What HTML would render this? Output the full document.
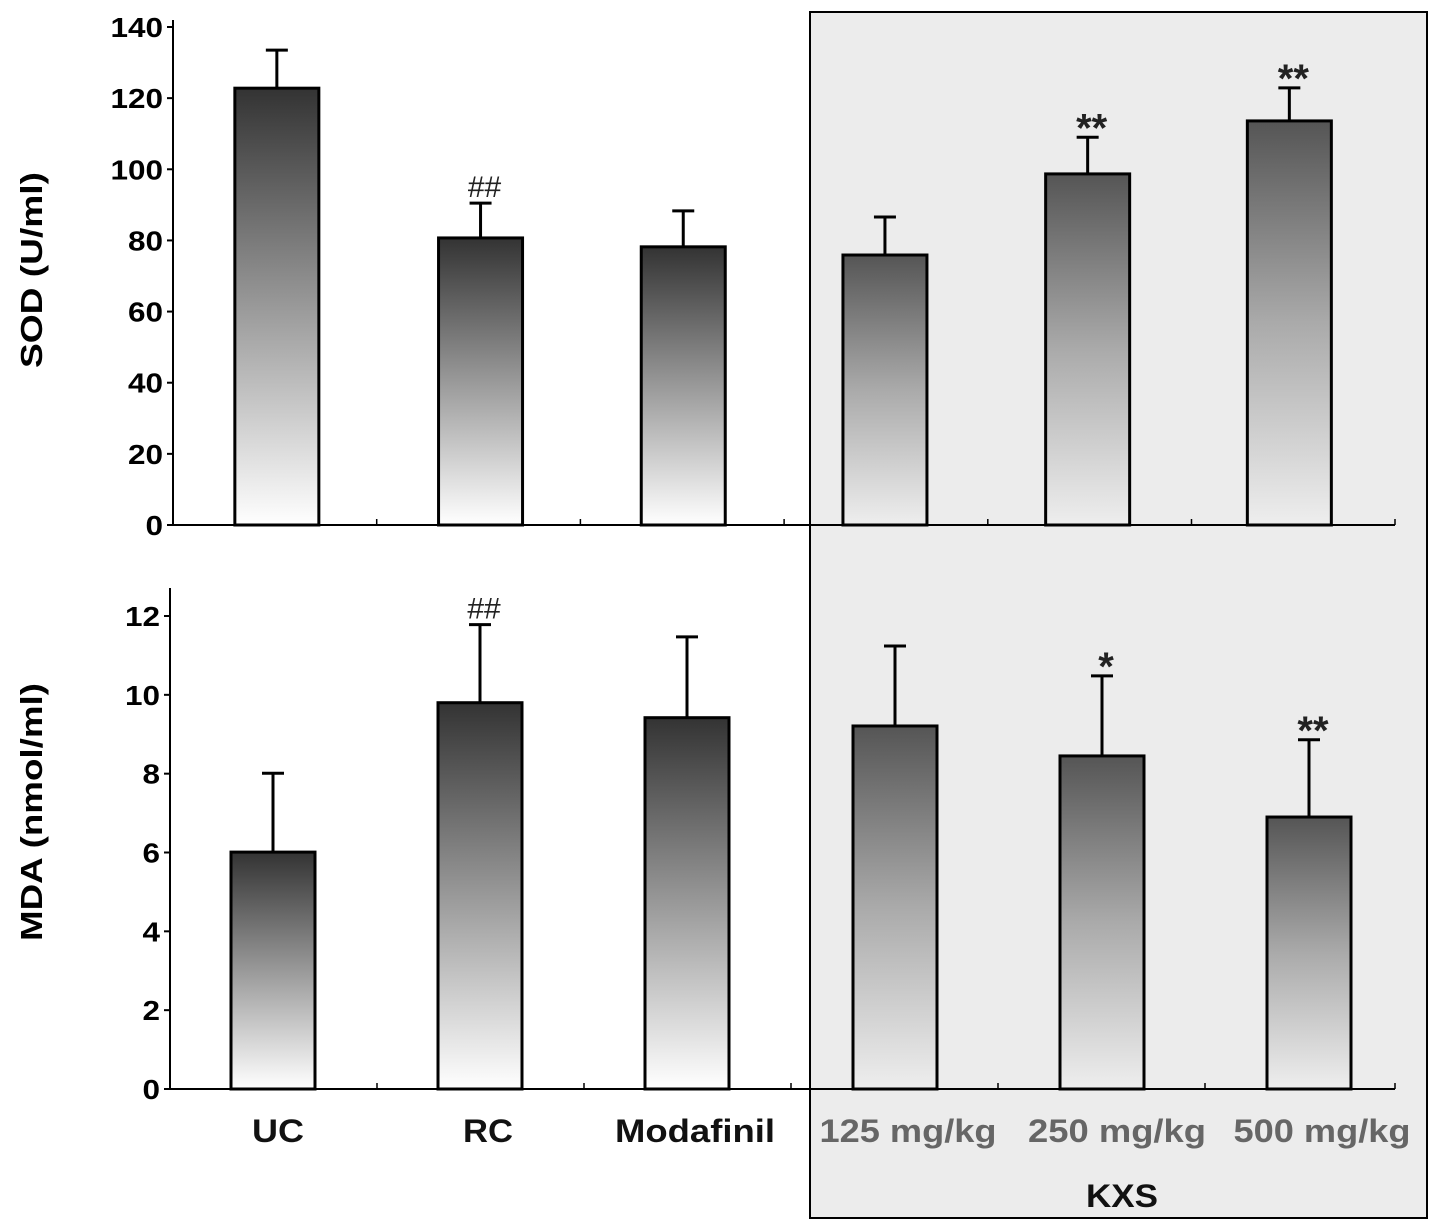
<!DOCTYPE html>
<html><head><meta charset="utf-8"><style>
body{margin:0;background:#fff}
svg{display:block;font-family:"Liberation Sans",sans-serif;font-weight:bold}
</style></head><body>
<svg id="chart" width="1441" height="1231" viewBox="0 0 1441 1231" xmlns="http://www.w3.org/2000/svg">
<defs>
<linearGradient id="gDark" x1="0" y1="0" x2="0" y2="1"><stop offset="0" stop-color="#333"/><stop offset="0.5" stop-color="#999"/><stop offset="1" stop-color="#fff"/></linearGradient>
<linearGradient id="gLight" x1="0" y1="0" x2="0" y2="1"><stop offset="0" stop-color="#555"/><stop offset="0.5" stop-color="#aaa"/><stop offset="1" stop-color="#eee"/></linearGradient>
</defs>
<rect x="810" y="12" width="617" height="1206" fill="#ececec" stroke="#000" stroke-width="2"/>
<g id="plot"></g>
</svg>
<script>
const categories=["UC","RC","Modafinil","125 mg/kg","250 mg/kg","500 mg/kg"];
const sodValues=[122.8,80.7,78.2,75.9,98.7,113.6];
const sodErrors=[10.7,9.8,10.1,10.7,10.3,9.3];
const sodMarks=["","##","","","**","**"];
const sodTicks=[0,20,40,60,80,100,120,140];
const mdaValues=[6.01,9.8,9.42,9.21,8.45,6.9];
const mdaErrors=[2.0,1.98,2.05,2.03,2.03,1.96];
const mdaMarks=["","##","","","*","**"];
const mdaTicks=[0,2,4,6,8,10,12];

const NS="http://www.w3.org/2000/svg";
const g=document.getElementById('plot');
function mk(tag,attrs,parent){const e=document.createElementNS(NS,tag);for(const k in attrs)e.setAttribute(k,attrs[k]);(parent||g).appendChild(e);return e;}

function panel(p){
  const y=v=>p.y0-v*(p.y0-p.yTop)/p.vTop;
  const x=i=>p.xStart+p.step*(i+0.5);
  const pg=mk('g',{});
  
  
  let a=mk('line',{x1:p.ax,y1:p.axTop,x2:p.ax,y2:p.y0,stroke:'#000','stroke-width':2},pg);
  
  
  a=mk('line',{x1:p.ax,y1:p.y0,x2:p.xEnd,y2:p.y0,stroke:'#000','stroke-width':2},pg);
  
  
  for(let i=1;i<categories.length;i++){
    mk('line',{x1:p.xStart+p.step*i,y1:p.y0,x2:p.xStart+p.step*i,y2:p.y0-6,stroke:'#000','stroke-width':1.5},pg);
  }
  mk('line',{x1:p.xEnd,y1:p.y0,x2:p.xEnd,y2:p.y0-6,stroke:'#000','stroke-width':1.5},pg);
  p.ticks.forEach(t=>{
    mk('line',{x1:p.ax-6,y1:y(t),x2:p.ax,y2:y(t),stroke:'#000','stroke-width':2},pg);
    const s=String(t);
    const tx=mk('text',{x:p.ax-10,y:y(t)+10,'text-anchor':'end','font-size':28,fill:'#000',textLength:s.length*17.5,lengthAdjust:'spacingAndGlyphs'},pg);
    tx.textContent=s;
    
    
  });
  const lab=mk('text',{x:0,y:0,'text-anchor':'middle','font-size':31,textLength:p.titleLen,lengthAdjust:'spacingAndGlyphs',transform:`translate(${p.labX},${p.labY}) rotate(-90)`},pg);
  lab.textContent=p.title;
  
  
  p.values.forEach((v,i)=>{
    const cx=x(i)+p.off[i], w=84;
    const b=mk('rect',{x:cx-w/2,y:y(v),width:w,height:p.y0-y(v),fill:i<3?'url(#gDark)':'url(#gLight)',stroke:'#000','stroke-width':3},pg);
    
    
    const ey=y(v+p.errs[i]);
    const e=mk('path',{d:`M${cx},${y(v)} V${ey} M${cx-11},${ey} H${cx+11}`,stroke:'#000','stroke-width':3,fill:'none'},pg);
    
    
    if(p.marks[i]){
      const hash=p.marks[i][0]=='#';
      const m=mk('text',{x:cx+4,y:hash?ey-6:ey+4,'text-anchor':'middle','font-size':hash?30:40,'font-weight':hash?'normal':'bold',fill:'#222'},pg);
      m.textContent=p.marks[i];
      
      
    }
  });
}
panel({name:'sod',values:sodValues,errs:sodErrors,marks:sodMarks,ticks:sodTicks,y0:525,yTop:27,vTop:140,ax:173,axTop:20,xStart:173,step:203.7,xEnd:1395,
  off:[2,2,1,-1,-2,-4],title:'SOD (U/ml)',titleLen:196,labX:42,labY:270});
panel({name:'mda',values:mdaValues,errs:mdaErrors,marks:mdaMarks,ticks:mdaTicks,y0:1089,yTop:616,vTop:12,ax:170,axTop:588,xStart:170,step:207,xEnd:1395,
  off:[-0.5,-0.5,-0.5,0.5,0.5,0.5],title:'MDA (nmol/ml)',titleLen:258,labX:42,labY:812});
const lx=[278,488,695,908,1117,1322];
const lw=[52,50,160,177,178,177];
categories.forEach((c,i)=>{
  const t=mk('text',{x:lx[i],y:1142,'text-anchor':'middle','font-size':32,fill:i<3?'#111':'#666',textLength:lw[i],lengthAdjust:'spacingAndGlyphs'});
  t.textContent=c;
  
  
});
const k=mk('text',{x:1122,y:1207,'text-anchor':'middle','font-size':32,fill:'#111',textLength:72,lengthAdjust:'spacingAndGlyphs'});
k.textContent='KXS';


</script>
</body></html>
